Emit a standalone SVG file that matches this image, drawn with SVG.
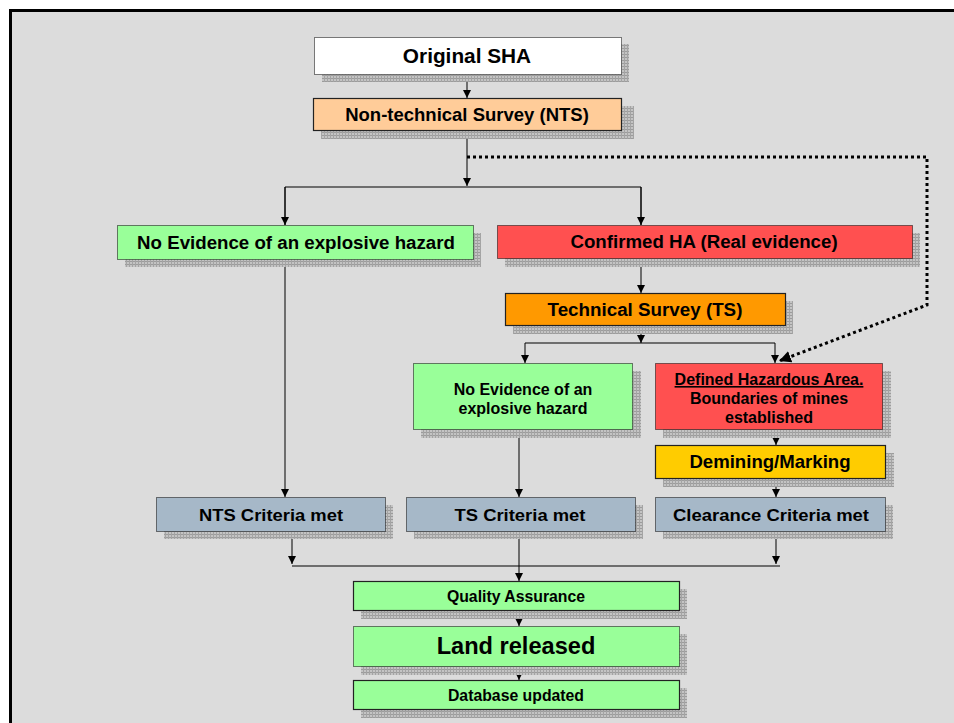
<svg xmlns="http://www.w3.org/2000/svg" width="954" height="723" viewBox="0 0 954 723">
<defs>
<pattern id="hatch" width="3" height="3" patternUnits="userSpaceOnUse">
<rect width="3" height="3" fill="#c4c4c4"/>
<rect width="3" height="1" fill="#9c9c9c"/>
<rect width="1" height="3" fill="#a4a4a4"/>
</pattern>
<marker id="ah" markerWidth="8" markerHeight="8" refX="8" refY="4" orient="auto" markerUnits="userSpaceOnUse">
<path d="M0,0 L8,4 L0,8 Z" fill="#000"/>
</marker>
<marker id="ahd" markerWidth="12" markerHeight="12" refX="12" refY="6" orient="auto" markerUnits="userSpaceOnUse">
<path d="M0,0 L12,6 L0,12 Z" fill="#000"/>
</marker>
</defs>
<style>
.sh{fill:url(#hatch);}
.bd{stroke:#000;stroke-width:1;stroke-dasharray:1 1;}
.bs{stroke:#222;stroke-width:1.2;}
.t{font-family:"Liberation Sans",Arial,sans-serif;font-weight:bold;fill:#000;text-anchor:middle;}
.c{fill:none;stroke:#000;stroke-width:1;}
.dot{fill:none;stroke:#000;stroke-width:3;stroke-dasharray:3 3;}
</style>
<rect x="0" y="0" width="954" height="723" fill="#fff"/>
<rect x="10" y="10" width="944" height="713" fill="#dcdcdc"/>
<path d="M10.5,723 V10.5 H954" fill="none" stroke="#000" stroke-width="3"/>

<g id="connectors">
<path class="c" d="M467,74 V98" marker-end="url(#ah)"/>
<path class="c" d="M467,131 V186" marker-end="url(#ah)"/>
<path class="c" d="M285,225 V187 H641 V225" />
<path class="c" d="M285,187 V225" marker-end="url(#ah)"/>
<path class="c" d="M641,187 V225" marker-end="url(#ah)"/>
<path class="c" d="M641,259 V293" marker-end="url(#ah)"/>
<path class="c" d="M641,325 V343" marker-end="url(#ah)"/>
<path class="c" d="M525,343 H775"/>
<path class="c" d="M525,343 V363" marker-end="url(#ah)"/>
<path class="c" d="M775,343 V363" marker-end="url(#ah)"/>
<path class="c" d="M285,259 V497" marker-end="url(#ah)"/>
<path class="c" d="M519,429 V497" marker-end="url(#ah)"/>
<path class="c" d="M776,429 V445" marker-end="url(#ah)"/>
<path class="c" d="M776,478 V497" marker-end="url(#ah)"/>
<path class="c" d="M292,531 V564" marker-end="url(#ah)"/>
<path class="c" d="M776,531 V564" marker-end="url(#ah)"/>
<path class="c" d="M292,566 H780"/>
<path class="c" d="M519,531 V581" marker-end="url(#ah)"/>
<path class="c" d="M519,611 V626" marker-end="url(#ah)"/>
<path class="c" d="M519,667 V680" marker-end="url(#ah)"/>
<path class="dot" d="M467,157 H927 V305 L779,361" marker-end="url(#ahd)"/>
</g>

<g id="original-sha">
<rect class="sh" x="322" y="44" width="307" height="38"/>
<rect class="bd" x="314.5" y="37.5" width="307" height="37" fill="#fff"/>
<text class="t" x="467" y="63" font-size="20.8">Original SHA</text>
</g>
<g id="nts">
<rect class="sh" x="321" y="106" width="313" height="33"/>
<rect class="bs" x="313.5" y="98.5" width="308" height="32" fill="#ffcc99"/>
<text class="t" x="467" y="121" font-size="18.5">Non-technical Survey (NTS)</text>
</g>
<g id="no-evidence-1">
<rect class="sh" x="125" y="233" width="356" height="34"/>
<rect class="bd" x="117.5" y="225.5" width="356" height="34" fill="#99ff99"/>
<text class="t" x="296" y="249" font-size="18.7">No Evidence of an explosive hazard</text>
</g>
<g id="confirmed-ha">
<rect class="sh" x="505" y="233" width="415" height="34"/>
<rect class="bd" x="497.5" y="225.5" width="415" height="33" fill="#ff5050"/>
<text class="t" x="704" y="248" font-size="18.7">Confirmed HA (Real evidence)</text>
</g>
<g id="ts">
<rect class="sh" x="513" y="301" width="280" height="33"/>
<rect class="bs" x="505.5" y="293.5" width="280" height="32" fill="#ff9900"/>
<text class="t" x="645" y="316" font-size="18.8">Technical Survey (TS)</text>
</g>
<g id="no-evidence-2">
<rect class="sh" x="421" y="371" width="220" height="67"/>
<rect class="bd" x="413.5" y="363.5" width="219" height="66" fill="#99ff99"/>
<text class="t" x="523" y="395" font-size="16">No Evidence of an</text>
<text class="t" x="523" y="414" font-size="16">explosive hazard</text>
</g>
<g id="defined-ha">
<rect class="sh" x="663" y="371" width="228" height="67"/>
<rect class="bd" x="655.5" y="363.5" width="227" height="66" fill="#ff5050"/>
<text class="t" x="769" y="385" font-size="16" text-decoration="underline">Defined Hazardous Area.</text>
<text class="t" x="769" y="404" font-size="16">Boundaries of mines</text>
<text class="t" x="769" y="423" font-size="16">established</text>
</g>
<g id="demining">
<rect class="sh" x="663" y="453" width="231" height="34"/>
<rect class="bs" x="655.5" y="445.5" width="230" height="33" fill="#ffcc00"/>
<text class="t" x="770" y="468" font-size="18.6">Demining/Marking</text>
</g>
<g id="nts-criteria">
<rect class="sh" x="164" y="505" width="229" height="34"/>
<rect class="bd" x="156.5" y="497.5" width="229" height="34" fill="#a6b8c8"/>
<text class="t" x="271" y="521" font-size="17" textLength="144" lengthAdjust="spacingAndGlyphs">NTS Criteria met</text>
</g>
<g id="ts-criteria">
<rect class="sh" x="414" y="505" width="229" height="34"/>
<rect class="bd" x="406.5" y="497.5" width="229" height="34" fill="#a6b8c8"/>
<text class="t" x="520" y="521" font-size="17" textLength="131" lengthAdjust="spacingAndGlyphs">TS Criteria met</text>
</g>
<g id="clearance-criteria">
<rect class="sh" x="663" y="505" width="230" height="34"/>
<rect class="bd" x="655.5" y="497.5" width="230" height="34" fill="#a6b8c8"/>
<text class="t" x="771" y="521" font-size="17" textLength="196" lengthAdjust="spacingAndGlyphs">Clearance Criteria met</text>
</g>
<g id="qa">
<rect class="sh" x="361" y="589" width="326" height="30"/>
<rect class="bs" x="353.5" y="581.5" width="326" height="29" fill="#99ff99"/>
<text class="t" x="516" y="602" font-size="15.8">Quality Assurance</text>
</g>
<g id="land-released">
<rect class="sh" x="361" y="634" width="326" height="41"/>
<rect class="bd" x="353.5" y="626.5" width="326" height="40" fill="#99ff99"/>
<text class="t" x="516" y="654" font-size="23.6">Land released</text>
</g>
<g id="database">
<rect class="sh" x="361" y="688" width="326" height="30"/>
<rect class="bs" x="353.5" y="680.5" width="326" height="29" fill="#99ff99"/>
<text class="t" x="516" y="701" font-size="15.8">Database updated</text>
</g>
</svg>
